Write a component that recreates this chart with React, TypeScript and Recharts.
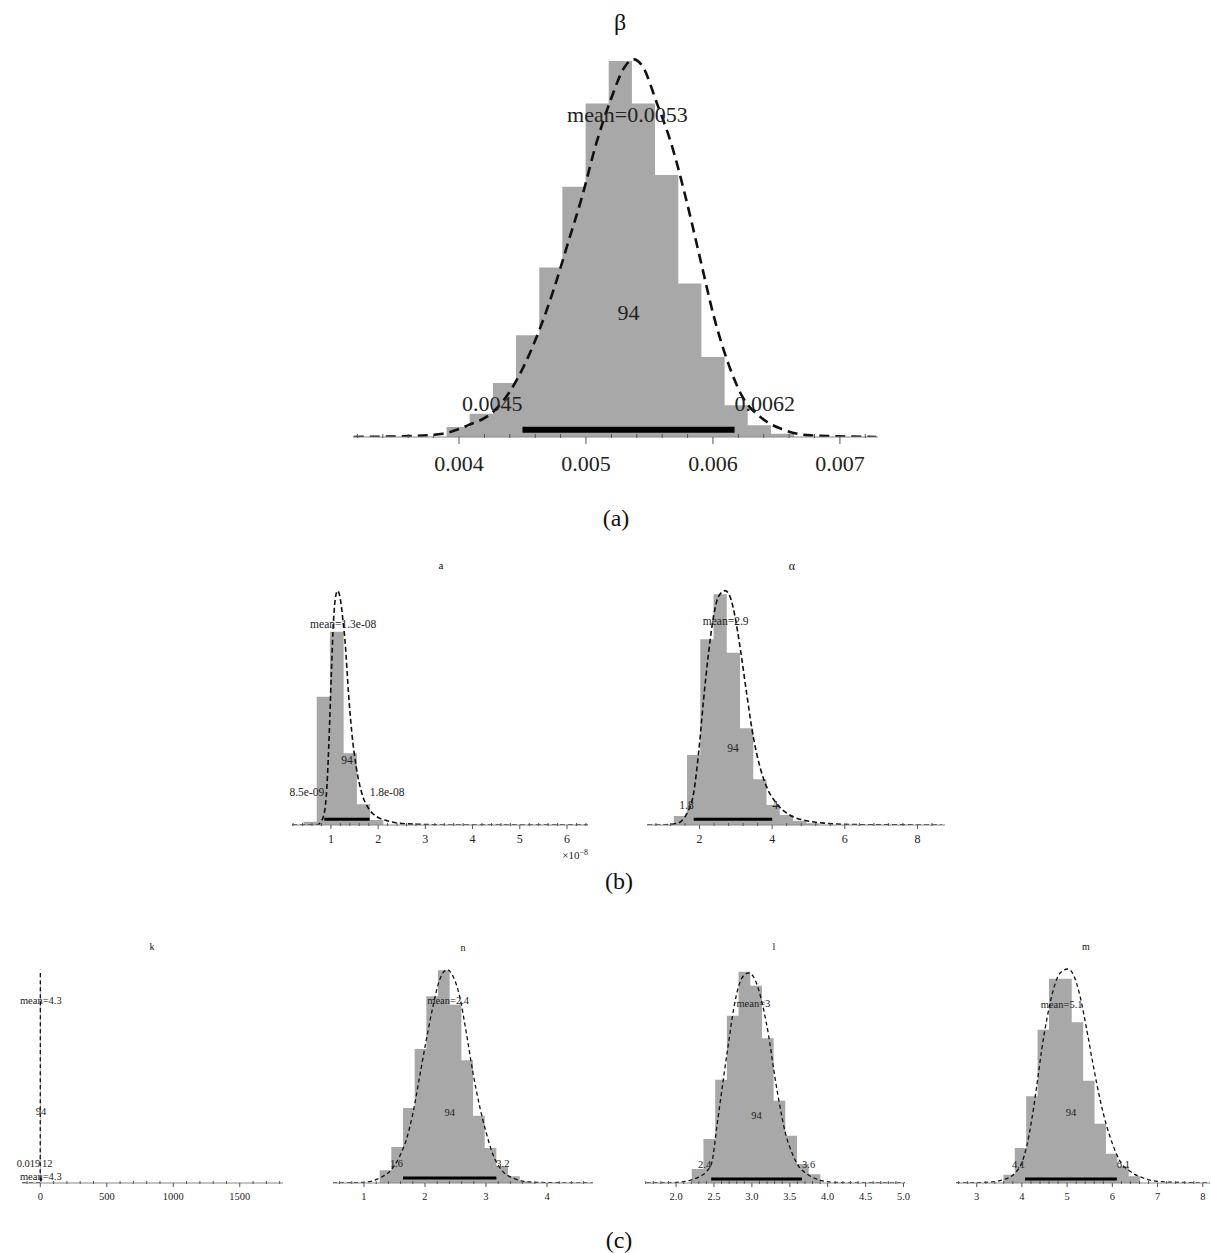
import React from "react";
import {
  ComposedChart,
  Area,
  Line,
  XAxis,
  YAxis,
  ReferenceLine,
  ReferenceDot,
} from "recharts";

const SERIF = '"Liberation Serif", "Times New Roman", serif';
const GRAY = "#a8a8a8";

// ---- (a) beta
const betaEdges = [0.003902, 0.004084, 0.004267, 0.004449, 0.004632, 0.004814, 0.004997, 0.005179, 0.005362, 0.005544, 0.005727, 0.005909, 0.006092, 0.006274, 0.006457, 0.006639];
const betaCounts = [30, 70, 162, 305, 508, 750, 1000, 1127, 1000, 785, 460, 240, 95, 35, 10];
const betaDensX = [0.003171, 0.003621, 0.003874, 0.00407, 0.004267, 0.004407, 0.00452, 0.004632, 0.004744, 0.004857, 0.004969, 0.005081, 0.005194, 0.005306, 0.005376, 0.005447, 0.005559, 0.005671, 0.005784, 0.005896, 0.006008, 0.006121, 0.006233, 0.006374, 0.00657, 0.006767, 0.007287];
const betaDensY = [0, 3, 10, 35, 75, 140, 220, 320, 440, 580, 720, 880, 1010, 1110, 1132, 1110, 1000, 880, 720, 540, 360, 220, 120, 60, 20, 5, 0];
const betaTicks = [0.004, 0.005, 0.006, 0.007];
const betaTickText = ["0.004", "0.005", "0.006", "0.007"];
const betaHdi = [0.0045, 0.00617];
const betaHdiText = ["0.0045", "0.0062"];
const betaMean = 0.005326;

// ---- (b) a  (units of 1e-8)
const aEdges = [0.42, 0.7, 0.98, 1.27, 1.55, 1.83, 2.11];
const aCounts = [10, 385, 580, 215, 62, 15];
const aDensX = [0.176, 0.704, 0.789, 0.859, 0.915, 0.965, 1.007, 1.056, 1.099, 1.141, 1.197, 1.254, 1.303, 1.373, 1.444, 1.535, 1.655, 1.796, 1.972, 2.183, 2.465, 2.887, 3.451, 6.44];
const aDensY = [0, 0, 10, 35, 115, 275, 445, 615, 685, 703, 680, 615, 545, 395, 275, 175, 95, 50, 25, 13, 5, 2, 0, 0];
const aTicks = [1, 2, 3, 4, 5, 6];
const aTickText = ["1", "2", "3", "4", "5", "6"];
const aHdi = [0.86, 1.82];
const aHdiText = ["8.5e-09", "1.8e-08"];
const aMean = 1.26;

// ---- (b) alpha
const alEdges = [1.29, 1.655, 2.02, 2.385, 2.75, 3.115, 3.48, 3.845, 4.21, 4.575, 4.94, 5.305];
const alCounts = [27, 210, 557, 692, 517, 290, 137, 60, 30, 13, 5];
const alDensX = [0.557, 0.922, 1.379, 1.653, 1.836, 1.973, 2.11, 2.247, 2.384, 2.521, 2.703, 2.84, 2.977, 3.114, 3.297, 3.479, 3.662, 3.845, 4.119, 4.484, 4.941, 5.489, 6.311, 8.685];
const alDensY = [0, 0, 5, 35, 95, 215, 375, 515, 625, 685, 703, 685, 625, 535, 395, 265, 175, 115, 65, 30, 13, 5, 1, 0];
const alTicks = [2, 4, 6, 8];
const alTickText = ["2", "4", "6", "8"];
const alHdi = [1.84, 4.0];
const alHdiText = ["1.8", "4"];
const alMean = 2.72;

// ---- (c) k  (all the mass sits at 0, the curve is one vertical spike)
const kEdges = [0, 6];
const kCounts = [600];
const kDensX = [-137, -1, 0.5];
const kDensY = [0, 0, 640];
const kTicks = [0, 500, 1000, 1500];
const kTickText = ["0", "500", "1000", "1500"];
const kHdi = [0.019, 12];
const kHdiText = ["0.019", "12"];
const kMean = 4.3;

// ---- (c) n
const nEdges = [1.257, 1.448, 1.64, 1.831, 2.022, 2.214, 2.405, 2.596, 2.787, 2.979, 3.17, 3.361, 3.553, 3.744];
const nCounts = [38, 108, 225, 402, 560, 638, 535, 368, 202, 105, 50, 20, 5];
const nDensX = [0.492, 0.984, 1.257, 1.448, 1.585, 1.694, 1.803, 1.913, 2.022, 2.131, 2.24, 2.366, 2.459, 2.568, 2.678, 2.787, 2.896, 3.005, 3.115, 3.251, 3.443, 3.77, 4.75];
const nDensY = [0, 2, 15, 40, 80, 130, 210, 320, 430, 530, 610, 640, 620, 560, 450, 330, 230, 150, 85, 40, 15, 2, 0];
const nTicks = [1, 2, 3, 4];
const nTickText = ["1", "2", "3", "4"];
const nHdi = [1.64, 3.17];
const nHdiText = ["1.6", "3.2"];
const nMean = 2.38;

// ---- (c) l
const lEdges = [2.207, 2.361, 2.516, 2.67, 2.824, 2.979, 3.133, 3.287, 3.441, 3.596, 3.75, 3.904];
const lCounts = [42, 132, 310, 502, 634, 592, 434, 247, 142, 57, 26];
const lDensX = [1.612, 2.009, 2.185, 2.317, 2.405, 2.472, 2.538, 2.626, 2.692, 2.758, 2.825, 2.891, 2.957, 3.023, 3.089, 3.155, 3.221, 3.288, 3.354, 3.442, 3.53, 3.618, 3.728, 3.905, 4.081, 4.5, 5.02];
const lDensY = [0, 2, 8, 20, 35, 62, 170, 315, 420, 520, 590, 622, 630, 618, 580, 520, 442, 340, 250, 150, 90, 50, 27, 8, 2, 0, 0];
const lTicks = [2, 2.5, 3, 3.5, 4, 4.5, 5];
const lTickText = ["2.0", "2.5", "3.0", "3.5", "4.0", "4.5", "5.0"];
const lHdi = [2.463, 3.662];
const lHdiText = ["2.4", "3.6"];
const lMean = 3.02;

// ---- (c) m
const mEdges = [3.59, 3.842, 4.094, 4.346, 4.598, 4.85, 5.102, 5.354, 5.606, 5.858, 6.11, 6.362, 6.614];
const mCounts = [25, 105, 260, 460, 613, 613, 482, 307, 178, 88, 50, 20];
const mDensX = [2.543, 3.221, 3.59, 3.848, 3.996, 4.106, 4.217, 4.327, 4.438, 4.549, 4.696, 4.844, 5.013, 5.139, 5.286, 5.434, 5.581, 5.729, 5.876, 6.024, 6.171, 6.392, 6.687, 7.056, 8.16];
const mDensY = [0, 2, 10, 30, 60, 110, 190, 290, 400, 490, 580, 630, 642, 625, 560, 460, 350, 250, 170, 110, 65, 35, 15, 4, 0];
const mTicks = [3, 4, 5, 6, 7, 8];
const mTickText = ["3", "4", "5", "6", "7", "8"];
const mHdi = [4.07, 6.1];
const mHdiText = ["4.1", "6.1"];
const mMean = 4.88;

const titles = ["β", "a", "α", "k", "n", "l", "m"];
const captions = ["(a)", "(b)", "(c)"];
const pctText = "94";

const steps = (a: number, b: number, s: number) => {
  const out: number[] = [];
  for (let i = 0; a + i * s <= b + s * 1e-6; i++) out.push(+(a + i * s).toPrecision(10));
  return out;
};

const buildRows = (edges: number[], counts: number[], dx: number[], dy: number[]) => {
  const rows: { x: number; h?: number; d?: number }[] = [];
  edges.forEach((e, i) => rows.push({ x: e, h: i < counts.length ? counts[i] : 0 }));
  dx.forEach((x, i) => rows.push({ x, d: dy[i] }));
  return rows.sort((p, q) => p.x - q.x);
};

type Panel = {
  left: number; top: number; width: number; plotH: number; axisH: number;
  domain: [number, number]; ymax: number;
  edges: number[]; counts: number[]; densX: number[]; densY: number[];
  majors: number[]; majorText: string[]; minors: number[];
  hdi: number[]; hdiText: string[]; mean: number; meanText: string;
  yMean: number; yPct: number; yHdi: number; yBar: number;
  barW: number; lineW: number; dash: string; fs: number; tickFs: number;
  tickDy: number; majLen: number; minUp: number;
  extra?: { x: number; y: number; text: string }[];
};

const M = { top: 10, right: 30, bottom: 0, left: 40 };

function PosteriorPanel({ p }: { p: Panel }) {
  const rows = buildRows(p.edges, p.counts, p.densX, p.densY);
  const eps = (p.domain[1] - p.domain[0]) * 1e-6;
  const ticks = [...p.majors, ...p.minors.filter((v) => !p.majors.some((m) => Math.abs(m - v) < eps))].sort((a, b) => a - b);

  const renderTick = (t: any) => {
    const v = t.payload.value;
    const i = p.majors.findIndex((m) => Math.abs(m - v) < eps);
    const major = i >= 0;
    return (
      <g>
        <line
          x1={t.x}
          x2={t.x}
          y1={t.y - (major ? 0 : p.minUp)}
          y2={t.y + (major ? p.majLen : 1)}
          stroke="#555"
          strokeWidth={1}
        />
        {major && (
          <text x={t.x} y={t.y + p.tickDy} textAnchor="middle" dominantBaseline="central" fontSize={p.tickFs} fontFamily={SERIF} fill="#222">
            {p.majorText[i]}
          </text>
        )}
      </g>
    );
  };

  const label = (x: number, y: number, text: string, pos: "center" | "left" | "right", key: string) => (
    <ReferenceDot
      key={key}
      x={x}
      y={y}
      r={0}
      fill="none"
      stroke="none"
      ifOverflow="visible"
      label={{ value: text, position: pos, offset: 0, fontSize: p.fs, fontFamily: SERIF, fill: "#222" }}
    />
  );

  return (
    <div style={{ position: "absolute", left: p.left - M.left, top: p.top - M.top }}>
      <ComposedChart width={p.width + M.left + M.right} height={p.plotH + p.axisH + M.top} data={rows} margin={M}>
        <XAxis
          dataKey="x"
          type="number"
          domain={p.domain}
          allowDataOverflow
          ticks={ticks}
          interval={0}
          tickLine={false}
          tickSize={0}
          tickMargin={0}
          height={p.axisH}
          axisLine={{ stroke: "#888" }}
          tick={renderTick}
        />
        <YAxis hide type="number" domain={[0, p.ymax]} allowDataOverflow />
        <Area type="stepAfter" dataKey="h" fill={GRAY} fillOpacity={1} stroke="none" connectNulls isAnimationActive={false} />
        <Line type="monotone" dataKey="d" stroke="#111" strokeWidth={p.lineW} strokeDasharray={p.dash} dot={false} activeDot={false} connectNulls isAnimationActive={false} />
        <ReferenceLine
          segment={[{ x: p.hdi[0], y: p.yBar }, { x: p.hdi[1], y: p.yBar }]}
          stroke="#000"
          strokeWidth={p.barW}
          ifOverflow="visible"
        />
        {label(p.mean, p.yMean, p.meanText, "center", "mean")}
        {label((p.hdi[0] + p.hdi[1]) / 2, p.yPct, pctText, "center", "pct")}
        {label(p.hdi[0], p.yHdi, p.hdiText[0], "left", "lo")}
        {label(p.hdi[1], p.yHdi, p.hdiText[1], "right", "hi")}
        {(p.extra || []).map((e, i) => label(e.x, e.y, e.text, "center", "ex" + i))}
      </ComposedChart>
    </div>
  );
}

const bigStyle = { barW: 6, lineW: 2.6, dash: "10 6", fs: 22, tickFs: 22, tickDy: 26, majLen: 7, minUp: 3 };
const midStyle = { barW: 3, lineW: 1.6, dash: "5 3", fs: 11.5, tickFs: 12, tickDy: 14, majLen: 4, minUp: 2 };
const smallStyle = { barW: 3, lineW: 1.3, dash: "4 3", fs: 10.5, tickFs: 10.5, tickDy: 13.5, majLen: 4, minUp: 2 };

const panels: Panel[] = [
  {
    left: 353, top: 50, width: 525, plotH: 387, axisH: 44, domain: [0.003165, 0.0073], ymax: 1160,
    edges: betaEdges, counts: betaCounts, densX: betaDensX, densY: betaDensY,
    majors: betaTicks, majorText: betaTickText, minors: steps(0.0032, 0.0072, 0.0002),
    hdi: betaHdi, hdiText: betaHdiText, mean: betaMean, meanText: "mean=0.0053",
    yMean: 968, yPct: 375, yHdi: 102, yBar: 22, ...bigStyle,
  },
  {
    left: 292, top: 580, width: 296, plotH: 245, axisH: 30, domain: [0.176, 6.444], ymax: 735,
    edges: aEdges, counts: aCounts, densX: aDensX, densY: aDensY,
    majors: aTicks, majorText: aTickText, minors: steps(0.2, 6.4, 0.2),
    hdi: aHdi, hdiText: aHdiText, mean: aMean, meanText: "mean=1.3e-08",
    yMean: 603, yPct: 195, yHdi: 99, yBar: 17, ...midStyle,
  },
  {
    left: 647, top: 580, width: 298, plotH: 245, axisH: 30, domain: [0.553, 8.76], ymax: 735,
    edges: alEdges, counts: alCounts, densX: alDensX, densY: alDensY,
    majors: alTicks, majorText: alTickText, minors: steps(0.8, 8.4, 0.4),
    hdi: alHdi, hdiText: alHdiText, mean: alMean, meanText: "mean=2.9",
    yMean: 613, yPct: 232, yHdi: 60, yBar: 17, ...midStyle,
  },
  {
    left: 22, top: 960, width: 261, plotH: 223, axisH: 28, domain: [-137.5, 1825], ymax: 669,
    edges: kEdges, counts: kCounts, densX: kDensX, densY: kDensY,
    majors: kTicks, majorText: kTickText, minors: steps(-100, 1800, 100),
    hdi: kHdi, hdiText: kHdiText, mean: kMean, meanText: "mean=4.3",
    yMean: 548, yPct: 214, yHdi: 58, yBar: 10, ...smallStyle,
    extra: [{ x: kMean, y: 19, text: "mean=4.3" }],
  },
  {
    left: 333, top: 960, width: 260, plotH: 223, axisH: 28, domain: [0.492, 4.754], ymax: 669,
    edges: nEdges, counts: nCounts, densX: nDensX, densY: nDensY,
    majors: nTicks, majorText: nTickText, minors: steps(0.6, 4.6, 0.2),
    hdi: nHdi, hdiText: nHdiText, mean: nMean, meanText: "mean=2.4",
    yMean: 548, yPct: 213, yHdi: 60, yBar: 15, ...smallStyle,
  },
  {
    left: 645, top: 960, width: 260, plotH: 223, axisH: 28, domain: [1.59, 5.02], ymax: 669,
    edges: lEdges, counts: lCounts, densX: lDensX, densY: lDensY,
    majors: lTicks, majorText: lTickText, minors: steps(1.6, 5.0, 0.1),
    hdi: lHdi, hdiText: lHdiText, mean: lMean, meanText: "mean=3",
    yMean: 540, yPct: 204, yHdi: 55, yBar: 12, ...smallStyle,
  },
  {
    left: 956, top: 960, width: 254, plotH: 223, axisH: 28, domain: [2.542, 8.16], ymax: 669,
    edges: mEdges, counts: mCounts, densX: mDensX, densY: mDensY,
    majors: mTicks, majorText: mTickText, minors: steps(2.6, 8.0, 0.2),
    hdi: mHdi, hdiText: mHdiText, mean: mMean, meanText: "mean=5.1",
    yMean: 535, yPct: 213, yHdi: 55, yBar: 12, ...smallStyle,
  },
];

// centre of each title and caption
const titlePos = [
  [620, 22, 24], [441, 565, 11], [792, 566, 12],
  [152, 947, 10], [463, 948, 10], [774, 947, 10], [1086, 947, 10],
];
const captionPos = [[616, 518], [619, 881], [619, 1240]];

const Caption = ({ x, y, size, children }: { x: number; y: number; size: number; children: React.ReactNode }) => (
  <div
    style={{
      position: "absolute",
      left: x,
      top: y,
      transform: "translate(-50%, -50%)",
      fontFamily: SERIF,
      fontSize: size,
      lineHeight: 1,
      color: "#111",
      whiteSpace: "nowrap",
    }}
  >
    {children}
  </div>
);

export default function App() {
  return (
    <div style={{ position: "absolute", left: 0, top: 0, width: 1211, height: 1253, overflow: "hidden", background: "#fff" }}>
      {panels.map((p, i) => (
        <PosteriorPanel key={i} p={p} />
      ))}
      {titles.map((t, i) => (
        <Caption key={"t" + i} x={titlePos[i][0]} y={titlePos[i][1]} size={titlePos[i][2]}>
          {t}
        </Caption>
      ))}
      {captions.map((c, i) => (
        <Caption key={"c" + i} x={captionPos[i][0]} y={captionPos[i][1]} size={24}>
          {c}
        </Caption>
      ))}
      <div
        style={{
          position: "absolute",
          left: 588,
          top: 855,
          transform: "translate(-100%, -50%)",
          fontFamily: SERIF,
          fontSize: 11,
          lineHeight: 1,
          color: "#222",
          whiteSpace: "nowrap",
        }}
      >
        ×10<sup style={{ fontSize: 8 }}>−8</sup>
      </div>
    </div>
  );
}
